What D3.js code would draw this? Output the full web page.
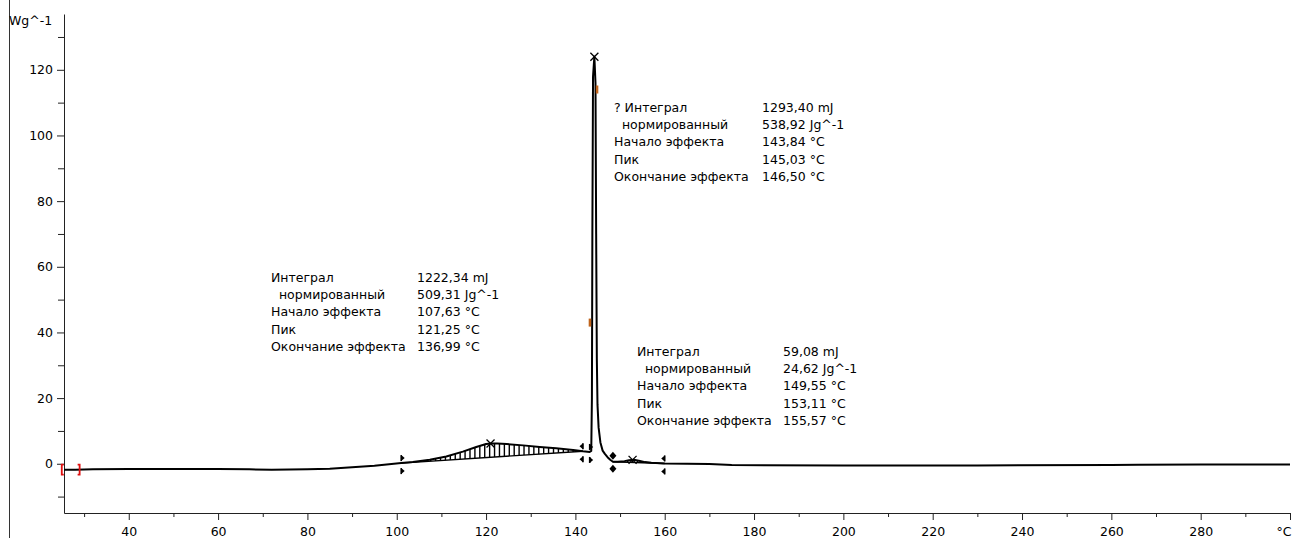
<!DOCTYPE html>
<html lang="ru">
<head>
<meta charset="UTF-8">
<title>DSC</title>
<script src="https://d3js.org/d3.v7.min.js"></script>
<style>
    body { margin: 0; background: #fff; }
    svg text { font-family: "DejaVu Sans", Verdana, sans-serif; font-size: 12.5px; fill: #000; }
    .axis path, .axis line { stroke: #222; }
</style>
</head>
<body>
<div id="chart"></div>
<script>
    // Temperature, °C
    const temps = [25.5, 28, 32, 40, 50, 60, 67, 72, 80, 85, 90, 95,
        101, 103.6, 107.4, 111.1, 114.8, 117.8, 120, 121.2, 122.5, 124.6, 128.3, 132, 135.7, 139.5, 141.7,
        143.2, 143.55, 143.7, 143.8, 143.95, 144.25, 144.5, 144.65, 144.8, 144.95, 145.2, 145.6, 146.1, 146.6, 147.2, 147.8, 148.4,
        149.5, 151, 152, 153.1, 154.2, 155.6, 157, 160, 165, 170, 175, 200, 230, 260, 266, 280, 300];
    // Heat flow, W/g
    const heatFlow = [-1.8, -1.8, -1.7, -1.6, -1.6, -1.6, -1.7, -1.8, -1.7, -1.5, -1.1, -0.6,
        0.2, 0.5, 1.2, 2.2, 3.7, 5.1, 6.0, 6.2, 6.2, 6.0, 5.6, 5.1, 4.7, 4.2, 3.8,
        3.6, 3.9, 20, 70, 118, 124, 116, 70, 32, 18, 11, 6.5, 4.0, 3.0, 2.0, 1.2, 0.6,
        0.6, 0.8, 1.1, 1.2, 0.9, 0.5, 0.3, 0.1, 0.0, -0.1, -0.4, -0.5, -0.5, -0.4, -0.3, -0.2, -0.2];

    // Evaluation limits (°C) and peak temperatures
    const hatchRanges = [[101, 141.7], [148.4, 160]];
    const limits = [
        { t: 101, kind: "start" }, { t: 141.7, kind: "end" }, { t: 143.2, kind: "start" },
        { t: 148.4, kind: "both" }, { t: 160, kind: "end" }
    ];
    const peakTemps = [121.0, 144.25, 152.8];
    const rangeBrackets = [25.0, 29.0];
    const orangeMarks = [{ t: 144.8, v: 114 }, { t: 143.2, v: 43 }];

    // Result tables
    const rowLabels = ["Интеграл", "  нормированный", "Начало эффекта", "Пик", "Окончание эффекта"];
    const rowLabels2 = ["? Интеграл", "  нормированный", "Начало эффекта", "Пик", "Окончание эффекта"];
    const values1 = ["1222,34 mJ", "509,31 Jg^-1", "107,63 °C", "121,25 °C", "136,99 °C"];
    const values2 = ["1293,40 mJ", "538,92 Jg^-1", "143,84 °C", "145,03 °C", "146,50 °C"];
    const values3 = ["59,08 mJ", "24,62 Jg^-1", "149,55 °C", "153,11 °C", "155,57 °C"];

    const xMajor = d3.range(40, 301, 20);
    const xMinor = d3.range(30, 300, 20);
    const yMajor = d3.range(0, 121, 20);
    const yMinor = d3.range(-10, 131, 20);

    const width = 1292, height = 538;
    const plotL = 64, plotR = 1290, plotT = 14, plotB = 513;

    const x = d3.scaleLinear().domain([25.5, 300]).range([plotL, plotR]);
    const y = d3.scaleLinear().domain([-15, 137]).range([plotB, plotT]);

    const svg = d3.select("#chart").append("svg")
        .attr("width", width).attr("height", height);

    // frame line on the left
    svg.append("line").attr("x1", 9.5).attr("x2", 9.5).attr("y1", 0).attr("y2", height)
        .attr("stroke", "#333");

    // axes
    const xAxis = svg.append("g").attr("class", "axis")
        .attr("transform", `translate(0,${plotB})`)
        .call(d3.axisBottom(x).tickValues(xMajor).tickSize(7).tickSizeOuter(0)
            .tickFormat(d => d === 300 ? "°C" : d));
    xAxis.selectAll("text").attr("dy", null).attr("y", 23);
    xAxis.selectAll(".tick").filter(d => d === 300).select("text")
        .attr("text-anchor", "end").attr("x", 1);
    svg.append("g").attr("class", "axis")
        .attr("transform", `translate(0,${plotB})`)
        .call(d3.axisBottom(x).tickValues(xMinor).tickSize(4).tickSizeOuter(0).tickFormat(""))
        .select(".domain").remove();

    const yAxis = svg.append("g").attr("class", "axis")
        .attr("transform", `translate(${plotL},0)`)
        .call(d3.axisLeft(y).tickValues(yMajor).tickSize(7).tickSizeOuter(0));
    yAxis.selectAll("text").attr("x", -11);
    svg.append("g").attr("class", "axis")
        .attr("transform", `translate(${plotL},0)`)
        .call(d3.axisLeft(y).tickValues(yMinor).tickSize(6).tickSizeOuter(0).tickFormat(""))
        .select(".domain").remove();
    svg.selectAll(".axis .domain").attr("stroke", "#222");
    svg.selectAll(".axis text").style("font-size", "12.5px").attr("fill", "#000");

    svg.append("text").attr("x", 9).attr("y", 25).text("Wg^-1");

    // helper: heat flow at a temperature (linear between read points)
    const bis = d3.bisector(d => d).left;
    function valueAt(t) {
        const i = Math.max(1, Math.min(temps.length - 1, bis(temps, t)));
        const t0 = temps[i - 1], t1 = temps[i];
        const k = (t - t0) / (t1 - t0);
        return heatFlow[i - 1] + k * (heatFlow[i] - heatFlow[i - 1]);
    }

    // hatching between curve and straight baseline
    const hatch = svg.append("g").attr("stroke", "#000").attr("stroke-width", 1.4);
    hatchRanges.forEach(([a, b]) => {
        const va = valueAt(a), vb = valueAt(b);
        const base = d3.scaleLinear().domain([a, b]).range([va, vb]);
        hatch.append("line")
            .attr("x1", x(a)).attr("y1", y(va)).attr("x2", x(b)).attr("y2", y(vb));
        d3.range(a + 1.1, b, 1.1).forEach(t => {
            hatch.append("line")
                .attr("x1", x(t)).attr("x2", x(t))
                .attr("y1", y(base(t))).attr("y2", y(valueAt(t)));
        });
    });

    // curve
    const line = d3.line().x(d => x(d[0])).y(d => y(d[1]));
    svg.append("path")
        .datum(temps.map((t, i) => [t, heatFlow[i]]))
        .attr("d", line)
        .attr("fill", "none")
        .attr("stroke", "#000")
        .attr("stroke-width", 2)
        .attr("stroke-linejoin", "round");

    // limit flags
    const marks = svg.append("g").attr("fill", "#000");
    limits.forEach(l => {
        const px = x(l.t), py = y(valueAt(l.t));
        if (l.kind === "both") {
            [py - 6, py + 7].forEach(cy => {
                marks.append("path").attr("d", `M${px},${cy - 4}L${px + 3.5},${cy}L${px},${cy + 4}L${px - 3.5},${cy}Z`);
            });
        } else {
            const dir = l.kind === "start" ? 1 : -1;
            [[py - 8, py - 2], [py + 5, py + 11]].forEach(([a, b]) => {
                marks.append("path").attr("d", `M${px},${a}L${px},${b}L${px + 3.5 * dir},${(a + b) / 2}Z`);
                marks.append("line").attr("x1", px).attr("x2", px).attr("y1", a).attr("y2", b)
                    .attr("stroke", "#000").attr("stroke-width", 1.6);
            });
        }
    });

    // peak crosses
    peakTemps.forEach(t => {
        const px = x(t), py = y(valueAt(t));
        svg.append("path")
            .attr("d", `M${px - 4},${py - 4}L${px + 4},${py + 4}M${px - 4},${py + 4}L${px + 4},${py - 4}`)
            .attr("stroke", "#000").attr("stroke-width", 1.3);
    });

    // red range brackets
    rangeBrackets.forEach((t, i) => {
        const px = x(t), py = y(valueAt(t));
        const d = i === 0 ? 1 : -1;
        svg.append("path")
            .attr("d", `M${px + 2 * d},${py - 5}L${px},${py - 5}L${px},${py + 5}L${px + 2 * d},${py + 5}`)
            .attr("fill", "none").attr("stroke", "#e01010").attr("stroke-width", 1.8);
    });

    // orange marks on the main peak
    orangeMarks.forEach(m => {
        svg.append("rect")
            .attr("x", x(m.t) - 1).attr("y", y(m.v) - 4)
            .attr("width", 2.5).attr("height", 8)
            .attr("fill", "#c0641c");
    });

    // result tables
    function table(labels, vals, lx, vx, y0) {
        const g = svg.append("g");
        labels.forEach((s, i) => {
            g.append("text").attr("x", lx).attr("y", y0 + i * 17.2)
                .attr("xml:space", "preserve").style("white-space", "pre").text(s);
            g.append("text").attr("x", vx).attr("y", y0 + i * 17.2).text(vals[i]);
        });
    }
    table(rowLabels, values1, 271, 417, 282);
    table(rowLabels2, values2, 614, 762, 112);
    table(rowLabels, values3, 637, 783, 356);
</script>
</body>
</html>
